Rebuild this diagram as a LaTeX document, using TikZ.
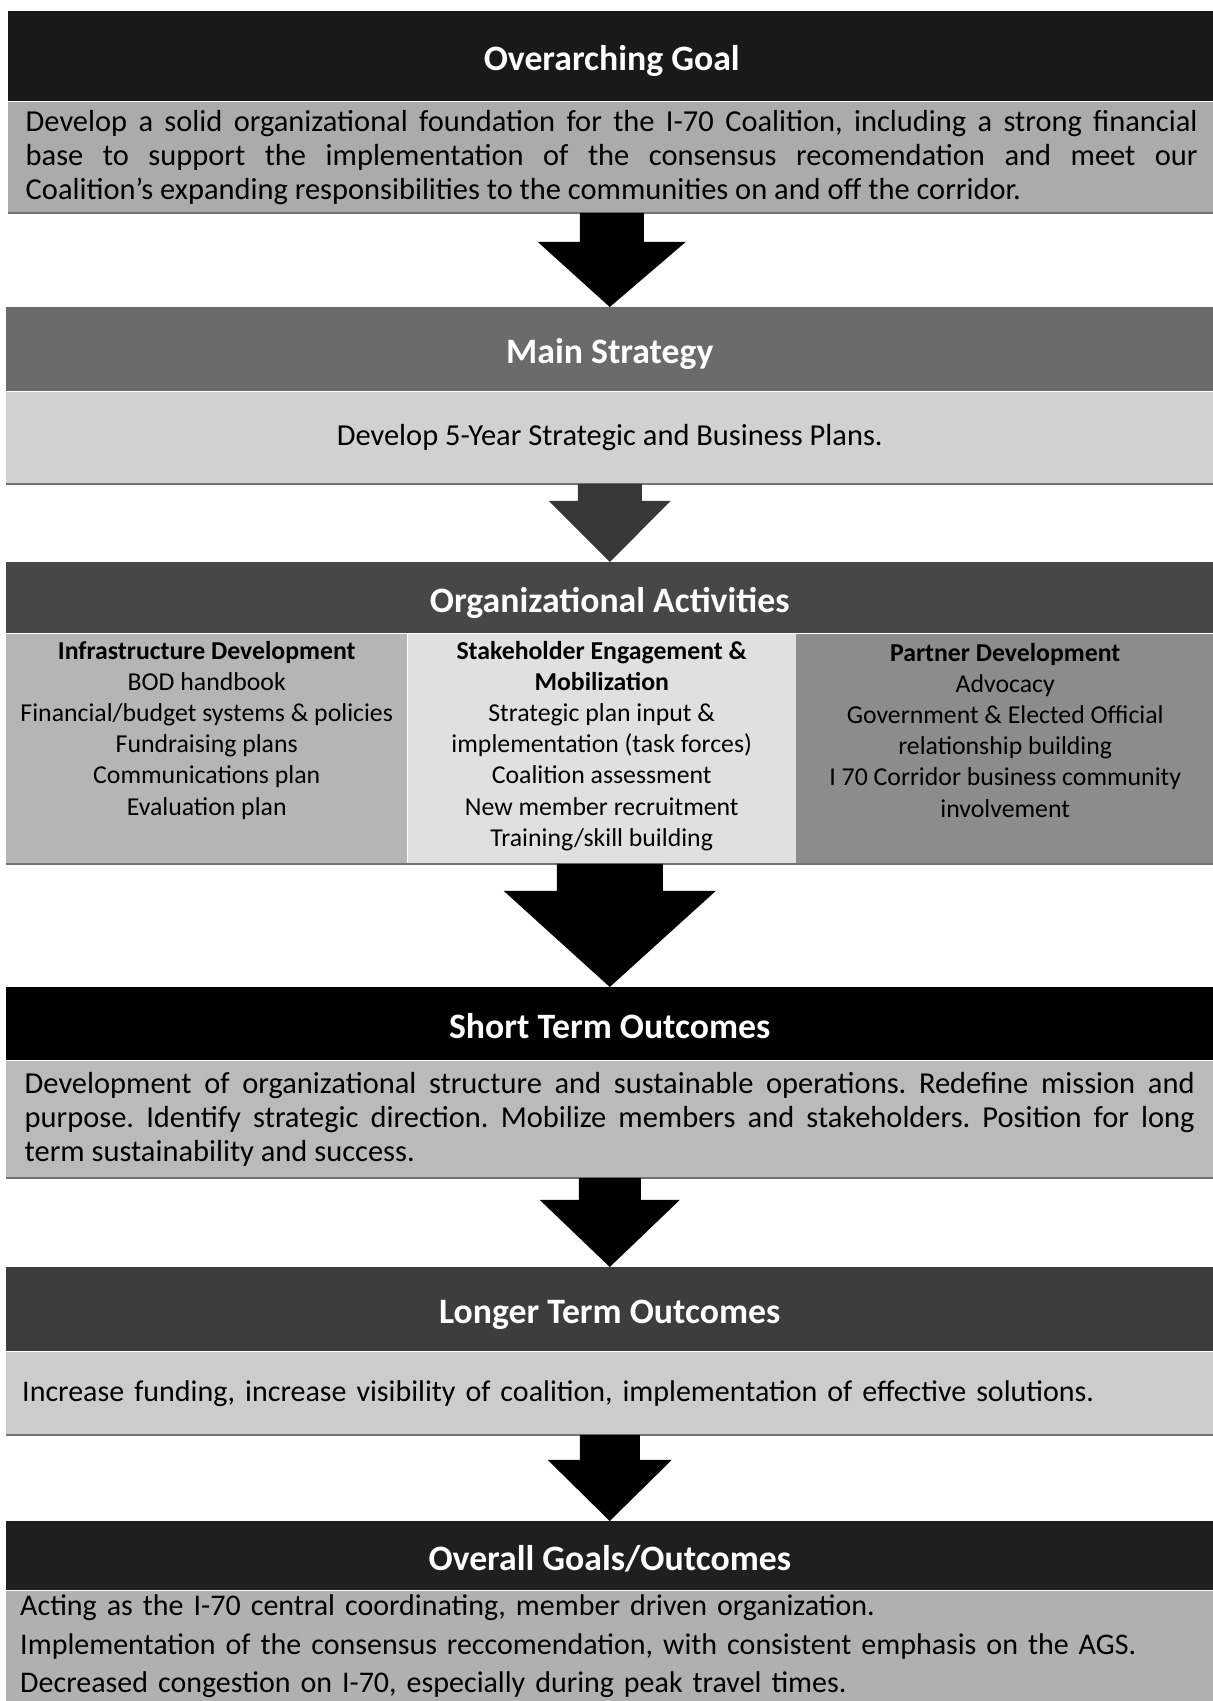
\documentclass[tikz,border=0pt]{standalone}
\usepackage{fontspec}
\setmainfont{Carlito}
\usetikzlibrary{calc}
\frenchspacing

\begin{document}
\begin{tikzpicture}[x=0.03cm, y=-0.03cm,
    bar/.style={anchor=north west, inner sep=0pt, minimum width=36.21cm, text=white, text height=32pt, text depth=7pt,
        font=\fontsize{30.5}{34}\selectfont\bfseries},
    panel/.style={anchor=north west, inner sep=0pt, minimum width=36.21cm, font=\fontsize{26}{29}\selectfont},
    column/.style={anchor=north west, inner sep=0pt, minimum height=6.9cm},
    coltext/.style={anchor=north, inner sep=0pt, align=center, font=\fontsize{22}{26.5}\selectfont},
    rim/.style={black!55, line width=1pt}]

    \useasboundingbox (0,0) rectangle (1213,1701);

    % 1. OVERARCHING GOAL
    \node[bar, fill=black!90, minimum height=2.7cm] (goalbar) at (8,11) {Overarching Goal};
    \node[panel, fill=black!33, minimum height=3.33cm, text width=35.16cm, align=justify] (goalbody) at (goalbar.south west)
        {Develop a solid organizational foundation for the I-70 Coalition, including a strong financial\linebreak
         base to support the implementation of the consensus recomendation and meet our\linebreak
         Coalition's expanding responsibilities to the communities on and off the corridor.};

    % 2. MAIN STRATEGY
    \node[bar, fill=black!58, minimum height=2.52cm] (stratbar) at (6,307) {Main Strategy};
    \node[panel, fill=black!18, minimum height=2.76cm] (stratbody) at (stratbar.south west)
        {Develop 5-Year Strategic and Business Plans.};

    % 3. ORGANIZATIONAL ACTIVITIES (tres columnes)
    \node[bar, fill=black!72, minimum height=2.13cm] (orgbar) at (6,562) {Organizational Activities};
    \node[panel, minimum height=6.9cm] (orgbody) at (orgbar.south west) {};
    \node[column, fill=black!29, minimum width=12.03cm] (infra) at (orgbody.north west) {};
    \node[column, fill=black!12, minimum width=11.64cm] (stake) at (infra.north east) {};
    \node[column, fill=black!45, minimum width=12.54cm] (partner) at (stake.north east) {};
    \node[coltext] (infratext) at ($(infra.north)+(0,8)$)
        {\textbf{Infrastructure Development}\\ BOD handbook\\ Financial/budget systems \& policies\\
         Fundraising plans\\ Communications plan\\ Evaluation plan};
    \node[coltext] (staketext) at ($(stake.north)+(0,8)$)
        {\textbf{Stakeholder Engagement \&}\\ \textbf{Mobilization}\\ Strategic plan input \&\\
         implementation (task forces)\\ Coalition assessment\\ New member recruitment\\ Training/skill building};
    \node[coltext] (partnertext) at ($(partner.north)+(0,10)$)
        {\textbf{Partner Development}\\ Advocacy\\ Government \& Elected Official\\
         relationship building\\ I 70 Corridor business community\\ involvement};

    % 4. SHORT TERM OUTCOMES
    \node[bar, fill=black, minimum height=2.19cm] (shortbar) at (6,987) {Short Term Outcomes};
    \node[panel, fill=black!27, minimum height=3.51cm, text width=35.1cm, align=justify] (shortbody) at (shortbar.south west)
        {Development of organizational structure and sustainable operations. Redefine mission and\linebreak
         purpose. Identify strategic direction. Mobilize members and stakeholders. Position for long\linebreak
         term sustainability and success.};

    % 5. LONGER TERM OUTCOMES
    \node[bar, fill=black!76, minimum height=2.52cm] (longbar) at (6,1267) {Longer Term Outcomes};
    \node[panel, fill=black!20, minimum height=2.49cm, text width=35.25cm, align=left,
          font=\fontsize{25.6}{29}\selectfont] (longbody) at (longbar.south west)
        {Increase funding, increase visibility of coalition, implementation of effective solutions.};

    % 6. OVERALL GOALS/OUTCOMES
    \node[bar, fill=black!88, minimum height=2.07cm] (overallbar) at (6,1521) {Overall Goals/Outcomes};
    \node[panel, fill=black!31, minimum height=3.33cm, text width=35.37cm, align=left,
          font=\fontsize{25.6}{33}\selectfont] (overallbody) at (overallbar.south west)
        {Acting as the I-70 central coordinating, member driven organization.\\
         Implementation of the consensus reccomendation, with consistent emphasis on the AGS.\\
         Decreased congestion on I-70, especially during peak travel times.};

    % 7. VORES INFERIORS
    \foreach \b in {goalbody, stratbody, orgbody, shortbody, longbody} {
        \draw[rim] (\b.south west) -- (\b.south east);
    }

    % 8. FLETXES DE BLOC (origen/desti/tija/punta/alcada/color)
    \foreach \a/\b/\s/\h/\k/\c in {
        goalbody/stratbar/32/74/29/black, stratbody/orgbar/32/61/17/black!78,
        orgbody/shortbar/53/106/27/black, shortbody/longbar/31/70/22/black,
        longbody/overallbar/30/62/25/black} {
        \fill[\c] ($(\a.south)+(-\s,0)$) -- ++(0,\k) -- ++({\s-\h},0) -- (\b.north)
            -- ($(\a.south)+(\h,\k)$) -- ++({\s-\h},0) -- ++(0,-\k) -- cycle;
    }

\end{tikzpicture}
\end{document}
